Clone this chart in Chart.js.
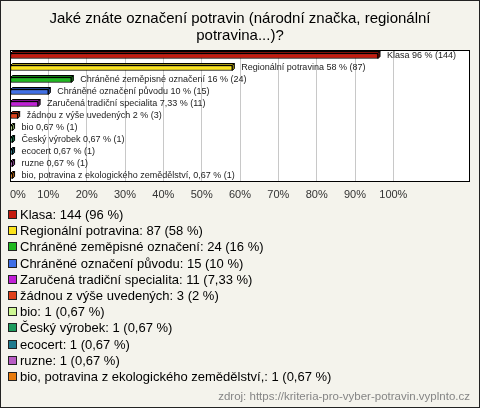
<!DOCTYPE html>
<html>
<head>
<meta charset="utf-8">
<script src="https://cdn.jsdelivr.net/npm/chart.js@4.4.1/dist/chart.umd.min.js"></script>
<style>
  html, body { margin:0; padding:0; background:#f4f3ec; }
  canvas { display:block; }
</style>
</head>
<body>
<canvas id="chart" width="480" height="408"></canvas>
<script>
const titleLines = ['Jaké znáte označení potravin (národní značka, regionální', 'potravina...)?'];
const categories = [
  'Klasa',
  'Regionální potravina',
  'Chráněné zeměpisné označení',
  'Chráněné označení původu',
  'Zaručená tradiční specialita',
  'žádnou z výše uvedených',
  'bio',
  'Český výrobek',
  'ecocert',
  'ruzne',
  'bio, potravina z ekologického zemědělství,'
];
const counts   = [144, 87, 24, 15, 11, 3, 1, 1, 1, 1, 1];
const percents = [96, 58, 16, 10, 7.33, 2, 0.67, 0.67, 0.67, 0.67, 0.67];
const colors   = ['#c41a0e', '#fbe31c', '#1fb81f', '#3f6fe6', '#c01fd6', '#e0401a',
                  '#cdf793', '#1c9b5e', '#1f7b8f', '#b85cc4', '#e87b0c'];
const tickMax  = 100;   // last labelled tick, in %
const tickStep = 10;
const sourceText = 'zdroj: https://kriteria-pro-vyber-potravin.vyplnto.cz';

const FONT = '"Liberation Sans", Arial, sans-serif';

function fmt(v) { return String(v).replace('.', ','); }

function shade(hex, f) {
  const n = parseInt(hex.slice(1), 16);
  const r = Math.round(((n >> 16) & 255) * f);
  const g = Math.round(((n >> 8) & 255) * f);
  const b = Math.round((n & 255) * f);
  return `rgb(${r},${g},${b})`;
}

// background, white plot box, outer frame, legend and source line
const framePlugin = {
  id: 'frame',
  beforeDraw(chart) {
    const { ctx, chartArea: a, width, height } = chart;
    ctx.save();
    ctx.fillStyle = '#f4f3ec';
    ctx.fillRect(0, 0, width, height);
    ctx.fillStyle = '#ffffff';
    ctx.fillRect(a.left, a.top, a.right - a.left, a.bottom - a.top);
    ctx.restore();
  },
  afterDraw(chart) {
    const { ctx, chartArea: a, width, height } = chart;
    ctx.save();
    ctx.strokeStyle = '#000';
    ctx.lineWidth = 1;
    ctx.strokeRect(a.left + 0.5, a.top + 0.5, a.right - a.left - 1, a.bottom - a.top - 1);
    ctx.strokeStyle = '#222';
    ctx.strokeRect(0.5, 0.5, width - 1, height - 1);

    // legend
    ctx.font = '13px ' + FONT;
    ctx.textBaseline = 'middle';
    ctx.textAlign = 'left';
    categories.forEach((c, i) => {
      const y = 215 + i * 16.2;
      ctx.fillStyle = colors[i];
      ctx.fillRect(8.5, Math.round(y) - 4.5, 8, 8);
      ctx.strokeStyle = '#222';
      ctx.strokeRect(8.5, Math.round(y) - 4.5, 8, 8);
      ctx.fillStyle = '#000';
      ctx.fillText(`${c}: ${counts[i]} (${fmt(percents[i])} %)`, 20, y + 0.5);
    });

    ctx.font = '11.5px ' + FONT;
    ctx.fillStyle = '#858585';
    ctx.textAlign = 'right';
    ctx.fillText(sourceText, 470, 397);
    ctx.restore();
  }
};

// pseudo 3D top/side faces plus value labels
const bars3dPlugin = {
  id: 'bars3d',
  afterDatasetsDraw(chart) {
    const ctx = chart.ctx;
    const meta = chart.getDatasetMeta(0);
    const d = 2;
    ctx.save();
    ctx.lineWidth = 1;
    ctx.strokeStyle = '#000';
    meta.data.forEach((el, i) => {
      const { x, y, base, height } = el.getProps(['x', 'y', 'base', 'height'], true);
      const top = y - height / 2, bot = y + height / 2;
      ctx.fillStyle = shade(colors[i], 0.65);
      ctx.beginPath();
      ctx.moveTo(base, top); ctx.lineTo(base + d, top - d);
      ctx.lineTo(x + d, top - d); ctx.lineTo(x, top);
      ctx.closePath(); ctx.fill(); ctx.stroke();
      ctx.beginPath();
      ctx.moveTo(x, top); ctx.lineTo(x + d, top - d);
      ctx.lineTo(x + d, bot - d); ctx.lineTo(x, bot);
      ctx.closePath(); ctx.fill(); ctx.stroke();

      ctx.fillStyle = '#222';
      ctx.font = '9px ' + FONT;
      ctx.textBaseline = 'middle';
      ctx.textAlign = 'left';
      ctx.fillText(`${categories[i]} ${fmt(percents[i])} % (${counts[i]})`, x + d + 7, y);
    });
    ctx.restore();
  }
};

new Chart(document.getElementById('chart'), {
  type: 'bar',
  data: {
    labels: categories,
    datasets: [{
      data: percents,
      backgroundColor: colors,
      borderColor: '#000',
      borderWidth: 1,
      borderSkipped: false,
      barThickness: 5
    }]
  },
  options: {
    indexAxis: 'y',
    responsive: false,
    animation: false,
    layout: { padding: { left: 10, right: 10, top: 0, bottom: 204 } },
    plugins: {
      legend: { display: false },
      tooltip: { enabled: false },
      title: {
        display: true,
        text: titleLines,
        color: '#000',
        font: { family: FONT, size: 15, weight: 'normal', lineHeight: 1.1 },
        padding: { top: 11, bottom: 6 }
      }
    },
    scales: {
      x: {
        min: 0,
        max: 120,
        afterFit(scale) { scale.height = 22; },
        ticks: {
          stepSize: tickStep,
          autoSkip: false,
          maxRotation: 0,
          align: 'inner',
          padding: 6,
          color: '#333',
          font: { family: FONT, size: 11 },
          callback: v => (v <= tickMax ? v + '%' : '')
        },
        grid: {
          drawTicks: false,
          color: c => (c.tick && c.tick.value > 0 && c.tick.value <= tickMax ? '#c8c8c8' : 'rgba(0,0,0,0)')
        },
        border: { display: false }
      },
      y: { display: false }
    }
  },
  plugins: [framePlugin, bars3dPlugin]
});
</script>
</body>
</html>
